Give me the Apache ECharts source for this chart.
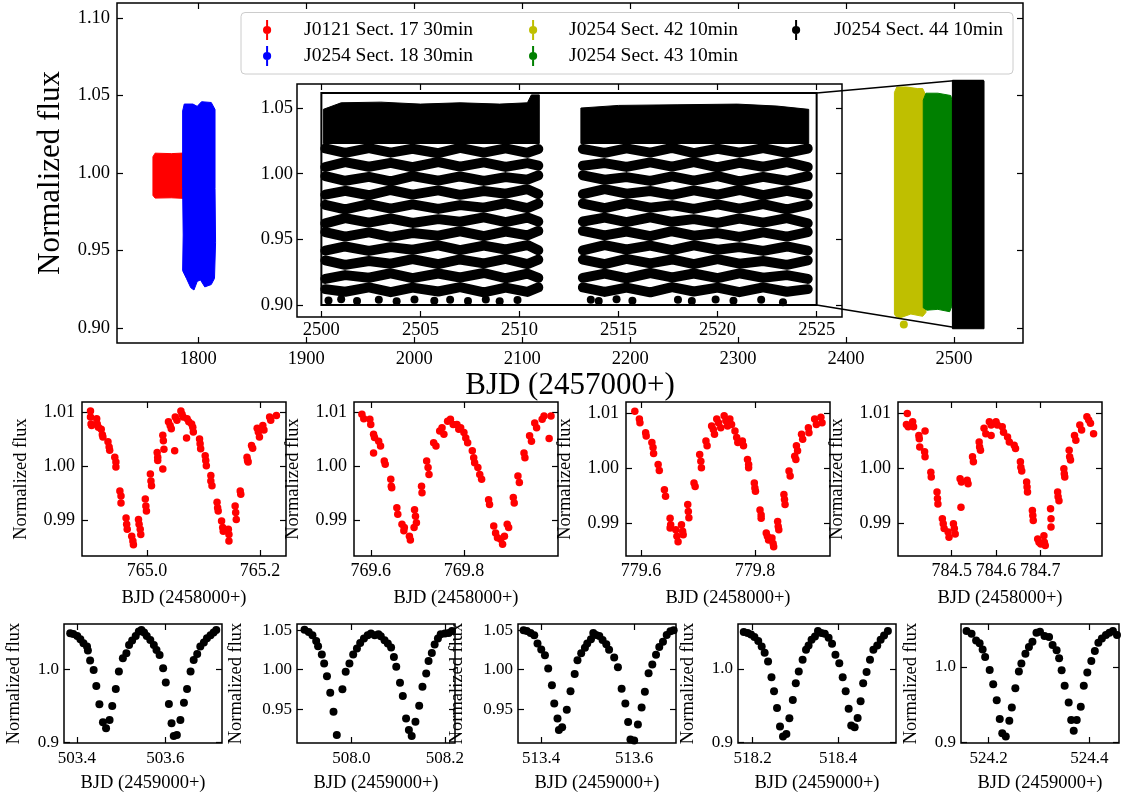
<!DOCTYPE html>
<html>
<head>
<meta charset="utf-8">
<script src="https://cdn.jsdelivr.net/npm/echarts@6.0.0/dist/echarts.min.js"></script>
<style>
  html, body { margin: 0; padding: 0; background: #fff; }
  #chart { width: 1126px; height: 798px; }
</style>
</head>
<body>
<div id="chart"></div>
<script>
const FONT = "'Liberation Serif', 'Times New Roman', serif"

const names = ['J0121 Sect. 17 30min', 'J0254 Sect. 18 30min', 'J0254 Sect. 42 10min', 'J0254 Sect. 43 10min', 'J0254 Sect. 44 10min']
const colors = ['#ff0000', '#0000ff', '#bfbf00', '#008000', '#000000']

// top panel, BJD - 2457000 vs flux: outlines of the dense sector light curves
const sect17Outline = [[1758, 0.9855], [1758, 1.0105], [1760, 1.0128], [1775, 1.0125], [1790, 1.013], [1790, 0.9835], [1775, 0.984], [1760, 0.9838]]
const sect18Outline = [[1785.5, 1.040], [1787, 1.0445], [1795, 1.0445], [1799, 1.043], [1803, 1.046], [1812, 1.0455], [1815.5, 1.041], [1815.5, 0.99], [1816, 0.955], [1815, 0.932], [1812, 0.928], [1806, 0.9265], [1802, 0.931], [1799, 0.930], [1796, 0.9245], [1793, 0.926], [1789, 0.932], [1785.5, 0.937], [1786, 0.96], [1785.5, 0.99]]
const sect42Outline = [[2444.8, 0.909], [2444.8, 1.052], [2447, 1.0555], [2456, 1.0555], [2466, 1.0545], [2471, 1.0545], [2474, 1.050], [2474, 0.910], [2471, 0.9075], [2460, 0.909], [2450, 0.9065], [2446, 0.9075]]
const sect42Outlier = [[2453.5, 0.9022]]
const sect43Outline = [[2471.5, 0.913], [2471.5, 1.047], [2474, 1.0515], [2485, 1.0515], [2497, 1.050], [2498.5, 1.046], [2498.5, 0.915], [2496, 0.9105], [2485, 0.912], [2475, 0.9115]]
const sect44Outline = [[2498.5, 0.8995], [2498.5, 1.0595], [2527.8, 1.0595], [2527.8, 0.8995]]

// zoom boxes [x0, y0, x1, y1]
const zoomBoxMain = [2499.5, 0.9005, 2526.6, 1.0595]
const zoomBoxInset = [2500, 0.900, 2525, 1.0614]

// inset (sector 44): dense top band, woven flux rows below it, loose points at the bottom
const insetBandLeft = [[2500.1, 1.023], [2500.1, 1.049], [2501, 1.054], [2503, 1.0545], [2505, 1.053], [2507, 1.054], [2509, 1.053], [2510.4, 1.054], [2510.6, 1.060], [2511.0, 1.060], [2511.0, 1.023]]
const insetBandRight = [[2513.1, 1.023], [2513.1, 1.050], [2515, 1.052], [2518, 1.0525], [2521, 1.053], [2523, 1.0515], [2524.6, 1.049], [2524.6, 1.023]]
const insetXLeft = [2500.2, 2501.2, 2502.4, 2503.5, 2504.6, 2505.9, 2507.0, 2508.2, 2509.3, 2510.4, 2510.95]
const insetXRight = [2513.2, 2514.3, 2515.4, 2516.6, 2517.7, 2518.8, 2520.0, 2521.1, 2522.3, 2523.5, 2524.55]
const insetRowsLeft = [
  [1.0192, 1.0158, 1.0195, 1.0160, 1.0190, 1.0156, 1.0196, 1.0161, 1.0193, 1.0159, 1.0188],
  [1.0051, 1.0088, 1.0053, 1.0083, 1.0049, 1.0089, 1.0054, 1.0086, 1.0052, 1.0081, 1.0061],
  [0.9981, 0.9946, 0.9976, 0.9942, 0.9982, 0.9947, 0.9979, 0.9945, 0.9974, 0.9954, 0.9988],
  [0.9840, 0.9870, 0.9836, 0.9876, 0.9841, 0.9873, 0.9839, 0.9868, 0.9848, 0.9882, 0.9845],
  [0.9763, 0.9729, 0.9769, 0.9734, 0.9766, 0.9732, 0.9761, 0.9741, 0.9775, 0.9738, 0.9773],
  [0.9622, 0.9662, 0.9627, 0.9659, 0.9625, 0.9654, 0.9634, 0.9668, 0.9631, 0.9666, 0.9636],
  [0.9556, 0.9521, 0.9553, 0.9519, 0.9548, 0.9528, 0.9562, 0.9525, 0.9560, 0.9530, 0.9564],
  [0.9414, 0.9446, 0.9412, 0.9441, 0.9421, 0.9455, 0.9418, 0.9453, 0.9423, 0.9457, 0.9417],
  [0.9340, 0.9306, 0.9335, 0.9315, 0.9349, 0.9312, 0.9347, 0.9317, 0.9351, 0.9311, 0.9346],
  [0.9199, 0.9228, 0.9208, 0.9242, 0.9205, 0.9240, 0.9210, 0.9244, 0.9204, 0.9239, 0.9207],
  [0.9121, 0.9101, 0.9135, 0.9098, 0.9133, 0.9103, 0.9137, 0.9097, 0.9132, 0.9100, 0.9134]
]
const insetRowsRight = [
  [1.0188, 1.0159, 1.0193, 1.0161, 1.0196, 1.0156, 1.0190, 1.0160, 1.0195, 1.0158, 1.0192],
  [1.0061, 1.0081, 1.0052, 1.0086, 1.0054, 1.0089, 1.0049, 1.0083, 1.0053, 1.0088, 1.0051],
  [0.9988, 0.9954, 0.9974, 0.9945, 0.9979, 0.9947, 0.9982, 0.9942, 0.9976, 0.9946, 0.9981],
  [0.9845, 0.9882, 0.9848, 0.9868, 0.9839, 0.9873, 0.9841, 0.9876, 0.9836, 0.9870, 0.9840],
  [0.9773, 0.9738, 0.9775, 0.9741, 0.9761, 0.9732, 0.9766, 0.9734, 0.9769, 0.9729, 0.9763],
  [0.9636, 0.9666, 0.9631, 0.9668, 0.9634, 0.9654, 0.9625, 0.9659, 0.9627, 0.9662, 0.9622],
  [0.9564, 0.9530, 0.9560, 0.9525, 0.9562, 0.9528, 0.9548, 0.9519, 0.9553, 0.9521, 0.9556],
  [0.9417, 0.9457, 0.9423, 0.9453, 0.9418, 0.9455, 0.9421, 0.9441, 0.9412, 0.9446, 0.9414],
  [0.9346, 0.9311, 0.9351, 0.9317, 0.9347, 0.9312, 0.9349, 0.9315, 0.9335, 0.9306, 0.9340],
  [0.9207, 0.9239, 0.9204, 0.9244, 0.9210, 0.9240, 0.9205, 0.9242, 0.9208, 0.9228, 0.9199],
  [0.9134, 0.9100, 0.9132, 0.9097, 0.9137, 0.9103, 0.9133, 0.9098, 0.9135, 0.9101, 0.9121]
]
const insetLoose = [[2500.36, 0.9035], [2501.0, 0.9045], [2501.8, 0.9030], [2502.9, 0.9040], [2503.8, 0.9028], [2504.7, 0.9042], [2505.7, 0.9032], [2506.5, 0.9040], [2507.4, 0.9030], [2508.3, 0.9043], [2509.0, 0.9028], [2509.9, 0.9038],
  [2513.6, 0.9040], [2514.0, 0.9030], [2514.9, 0.9045], [2515.7, 0.9032], [2518.0, 0.9040], [2518.7, 0.9030], [2519.9, 0.9043], [2520.8, 0.9032], [2522.2, 0.9040], [2523.3, 0.9022]]

// middle row, sector 17 (BJD - 2458000)
const lc765 = [[764.900,1.0103],[764.900,1.0092],[764.901,1.0079],[764.902,1.0076],[764.911,1.0089],[764.912,1.0079],[764.914,1.0073],[764.919,1.0069],[764.921,1.0059],[764.922,1.0055],[764.931,1.0046],[764.933,1.0036],[764.934,1.0030],[764.943,1.0017],[764.945,1.0008],[764.945,0.9999],[764.952,0.9954],[764.954,0.9945],[764.954,0.9932],[764.963,0.9904],[764.964,0.9892],[764.965,0.9883],[764.973,0.9870],[764.975,0.9861],[764.976,0.9854],[764.985,0.9901],[764.986,0.9892],[764.988,0.9883],[764.989,0.9873],[764.997,0.9939],[764.998,0.9926],[764.999,0.9917],[765.006,0.9986],[765.007,0.9973],[765.008,0.9964],[765.018,1.0026],[765.019,1.0017],[765.019,1.0011],[765.028,1.0058],[765.029,1.0048],[765.030,1.0032],[765.028,0.9995],[765.038,1.0083],[765.041,1.0076],[765.043,1.0070],[765.049,1.0029],[765.050,1.0092],[765.053,1.0086],[765.060,1.0103],[765.062,1.0097],[765.064,1.0092],[765.071,1.0089],[765.074,1.0083],[765.070,1.0053],[765.079,1.0079],[765.081,1.0073],[765.082,1.0064],[765.093,1.0051],[765.094,1.0042],[765.095,1.0033],[765.103,1.0020],[765.104,1.0011],[765.105,1.0001],[765.113,0.9983],[765.113,0.9973],[765.115,0.9964],[765.124,0.9933],[765.125,0.9923],[765.126,0.9917],[765.132,0.9898],[765.134,0.9886],[765.135,0.9879],[765.144,0.9883],[765.145,0.9873],[765.145,0.9861],[765.156,0.9926],[765.157,0.9914],[765.158,0.9901],[765.165,0.9954],[765.166,0.9948],[765.177,1.0017],[765.178,1.0011],[765.179,1.0008],[765.185,1.0039],[765.187,1.0034],[765.195,1.0071],[765.197,1.0064],[765.199,1.0055],[765.205,1.0076],[765.207,1.0068],[765.217,1.0092],[765.219,1.0086],[765.229,1.0095]]
const lc769 = [[769.581,1.0097],[769.585,1.0089],[769.598,1.0088],[769.600,1.0078],[769.606,1.0060],[769.608,1.0054],[769.606,1.0025],[769.617,1.0047],[769.621,1.0038],[769.629,1.0010],[769.631,1.0004],[769.643,0.9976],[769.644,0.9963],[769.645,0.9960],[769.656,0.9923],[769.658,0.9911],[769.667,0.9892],[769.671,0.9880],[769.672,0.9886],[769.683,0.9870],[769.685,0.9863],[769.694,0.9919],[769.696,0.9907],[769.698,0.9895],[769.693,0.9886],[769.709,0.9963],[769.710,0.9951],[769.720,1.0010],[769.723,0.9998],[769.725,0.9985],[769.735,1.0044],[769.740,1.0038],[769.748,1.0066],[769.753,1.0072],[769.757,1.0060],[769.765,1.0084],[769.771,1.0088],[769.777,1.0078],[769.785,1.0078],[769.789,1.0069],[769.793,1.0072],[769.800,1.0063],[769.804,1.0053],[769.808,1.0044],[769.818,1.0029],[769.821,1.0016],[769.823,1.0007],[769.830,0.9998],[769.834,0.9985],[769.838,0.9976],[769.853,0.9938],[769.855,0.9929],[769.864,0.9889],[769.868,0.9876],[769.872,0.9867],[769.879,0.9864],[769.883,0.9855],[769.887,0.9870],[769.893,0.9892],[769.896,0.9886],[769.906,0.9942],[769.908,0.9932],[769.916,0.9982],[769.919,0.9970],[769.929,1.0025],[769.931,1.0016],[769.941,1.0057],[769.945,1.0047],[769.952,1.0081],[769.956,1.0072],[769.968,1.0088],[769.972,1.0094],[769.983,1.0052],[769.987,1.0094]]
const lc779 = [[779.589,1.0104],[779.597,1.0090],[779.598,1.0083],[779.608,1.0065],[779.609,1.0059],[779.619,1.0047],[779.621,1.0038],[779.622,1.0027],[779.630,1.0007],[779.632,0.9996],[779.641,0.9961],[779.643,0.9949],[779.651,0.9909],[779.652,0.9897],[779.651,0.9891],[779.661,0.9888],[779.663,0.9876],[779.665,0.9866],[779.671,0.9897],[779.673,0.9885],[779.674,0.9879],[779.682,0.9934],[779.683,0.9921],[779.684,0.9910],[779.693,0.9973],[779.695,0.9967],[779.703,1.0025],[779.705,1.0013],[779.706,1.0001],[779.714,1.0050],[779.716,1.0041],[779.724,1.0077],[779.727,1.0071],[779.729,1.0062],[779.733,1.0090],[779.736,1.0083],[779.740,1.0074],[779.746,1.0096],[779.749,1.0087],[779.752,1.0077],[779.756,1.0090],[779.759,1.0080],[779.765,1.0068],[779.768,1.0056],[779.770,1.0047],[779.778,1.0050],[779.780,1.0041],[779.787,1.0016],[779.789,1.0007],[779.789,1.0001],[779.799,0.9973],[779.800,0.9964],[779.801,0.9958],[779.809,0.9924],[779.811,0.9915],[779.811,0.9909],[779.820,0.9882],[779.822,0.9876],[779.824,0.9869],[779.830,0.9873],[779.832,0.9863],[779.833,0.9857],[779.840,0.9903],[779.841,0.9894],[779.842,0.9888],[779.851,0.9952],[779.852,0.9943],[779.853,0.9934],[779.860,0.9995],[779.862,0.9986],[779.870,1.0022],[779.872,1.0016],[779.873,1.0041],[779.875,1.0032],[779.882,1.0062],[779.884,1.0053],[779.894,1.0074],[779.895,1.0065],[779.905,1.0090],[779.908,1.0080],[779.916,1.0093],[779.918,1.0083]]
const lc784 = [[784.400,1.0100],[784.398,1.0080],[784.402,1.0076],[784.412,1.0085],[784.414,1.0076],[784.426,1.0060],[784.427,1.0054],[784.428,1.0039],[784.440,1.0068],[784.439,1.0030],[784.440,1.0021],[784.453,0.9993],[784.454,0.9984],[784.467,0.9957],[784.468,0.9945],[784.469,0.9935],[784.479,0.9908],[784.481,0.9899],[784.483,0.9890],[784.492,0.9884],[784.494,0.9874],[784.504,0.9899],[784.506,0.9890],[784.508,0.9880],[784.519,0.9981],[784.522,0.9975],[784.521,0.9929],[784.535,0.9978],[784.537,0.9972],[784.547,1.0021],[784.549,1.0012],[784.562,1.0048],[784.563,1.0039],[784.565,1.0033],[784.573,1.0073],[784.577,1.0063],[784.585,1.0085],[784.589,1.0079],[784.589,1.0060],[784.600,1.0085],[784.603,1.0079],[784.614,1.0076],[784.617,1.0066],[784.626,1.0057],[784.630,1.0048],[784.641,1.0042],[784.644,1.0036],[784.655,1.0012],[784.656,1.0002],[784.658,0.9995],[784.669,0.9975],[784.670,0.9966],[784.671,0.9957],[784.682,0.9923],[784.683,0.9914],[784.684,0.9905],[784.694,0.9871],[784.697,0.9865],[784.701,0.9862],[784.708,0.9877],[784.709,0.9865],[784.711,0.9859],[784.723,0.9926],[784.724,0.9908],[784.724,0.9893],[784.739,0.9957],[784.740,0.9948],[784.742,0.9941],[784.753,0.9999],[784.754,0.9990],[784.755,0.9984],[784.765,1.0033],[784.766,1.0021],[784.768,1.0015],[784.777,1.0060],[784.780,1.0051],[784.789,1.0079],[784.793,1.0070],[784.805,1.0094],[784.809,1.0088],[784.813,1.0082],[784.820,1.0063]]

// bottom row, sector 44 (BJD - 2459000)
const lc503 = [[503.385,1.0493],[503.392,1.0484],[503.401,1.0457],[503.408,1.0411],[503.415,1.0356],[503.423,1.0311],[503.425,1.0256],[503.430,1.0119],[503.438,0.9991],[503.444,0.9772],[503.451,0.9521],[503.459,0.9274],[503.466,0.9192],[503.474,0.9306],[503.480,0.9498],[503.488,0.9731],[503.495,0.9968],[503.504,1.0151],[503.512,1.0219],[503.518,1.0333],[503.525,1.0393],[503.533,1.0457],[503.540,1.0516],[503.546,1.0539],[503.552,1.0502],[503.558,1.0457],[503.566,1.0402],[503.574,1.0333],[503.580,1.0265],[503.587,1.0196],[503.595,1.0014],[503.601,0.9817],[503.608,0.9525],[503.614,0.9260],[503.619,0.9087],[503.626,0.9100],[503.634,0.9306],[503.642,0.9543],[503.649,0.9731],[503.657,0.9968],[503.664,1.0128],[503.672,1.0210],[503.679,1.0311],[503.687,1.0365],[503.694,1.0425],[503.702,1.0466],[503.709,1.0502],[503.715,1.0539]]
const lc508 = [[507.900,1.0508],[507.909,1.0479],[507.917,1.0437],[507.925,1.0365],[507.929,1.0297],[507.937,1.0192],[507.942,1.0078],[507.948,0.9918],[507.955,0.9707],[507.962,0.9466],[507.969,0.9171],[507.981,0.9753],[507.988,0.9973],[507.996,1.0078],[508.004,1.0192],[508.012,1.0268],[508.019,1.0340],[508.027,1.0395],[508.035,1.0437],[508.042,1.0458],[508.050,1.0437],[508.058,1.0449],[508.063,1.0424],[508.071,1.0373],[508.078,1.0331],[508.085,1.0281],[508.091,1.0162],[508.096,1.0036],[508.104,0.9833],[508.110,0.9665],[508.117,0.9382],[508.123,0.9234],[508.129,0.9158],[508.137,0.9340],[508.145,0.9542],[508.152,0.9783],[508.160,0.9951],[508.165,1.0112],[508.172,1.0213],[508.178,1.0319],[508.185,1.0395],[508.191,1.0449],[508.200,1.0458],[508.208,1.0466],[508.215,1.0492]]
const lc513 = [[513.362,1.0500],[513.369,1.0492],[513.377,1.0466],[513.385,1.0437],[513.392,1.0331],[513.400,1.0255],[513.408,1.0184],[513.415,1.0015],[513.423,0.9804],[513.428,0.9572],[513.435,0.9382],[513.438,0.9234],[513.445,0.9270],[513.455,0.9491],[513.463,0.9726],[513.472,0.9947],[513.478,1.0119],[513.486,1.0208],[513.494,1.0279],[513.499,1.0332],[513.507,1.0385],[513.512,1.0465],[513.518,1.0442],[513.525,1.0429],[513.532,1.0376],[513.540,1.0323],[513.546,1.0252],[513.557,1.0155],[513.565,1.0031],[513.573,0.9757],[513.581,0.9571],[513.587,0.9336],[513.592,0.9115],[513.600,0.9102],[513.608,0.9305],[513.616,0.9522],[513.623,0.9721],[513.631,0.9956],[513.639,1.0066],[513.647,1.0190],[513.654,1.0288],[513.662,1.0354],[513.670,1.0442],[513.678,1.0487],[513.685,1.0500]]
const lc518 = [[518.179,1.0500],[518.188,1.0486],[518.196,1.0468],[518.204,1.0432],[518.213,1.0377],[518.221,1.0305],[518.228,1.0218],[518.236,1.0100],[518.244,0.9886],[518.250,0.9695],[518.257,0.9468],[518.264,0.9214],[518.271,0.9077],[518.279,0.9114],[518.286,0.9327],[518.294,0.9577],[518.301,0.9805],[518.308,0.9964],[518.317,1.0123],[518.325,1.0259],[518.331,1.0318],[518.338,1.0395],[518.346,1.0441],[518.353,1.0514],[518.361,1.0486],[518.369,1.0477],[518.378,1.0423],[518.386,1.0341],[518.394,1.0191],[518.403,1.0077],[518.411,0.9886],[518.418,0.9695],[518.425,0.9455],[518.431,0.9227],[518.439,0.9205],[518.446,0.9332],[518.453,0.9559],[518.459,0.9805],[518.467,0.9955],[518.475,1.0123],[518.483,1.0259],[518.492,1.0318],[518.500,1.0395],[518.508,1.0455],[518.517,1.0514]]
const lc524 = [[524.156,1.0476],[524.166,1.0441],[524.175,1.0352],[524.182,1.0313],[524.188,1.0233],[524.193,1.0132],[524.202,0.9960],[524.209,0.9771],[524.216,0.9559],[524.222,0.9308],[524.227,0.9119],[524.234,0.9075],[524.241,0.9286],[524.246,0.9463],[524.253,0.9718],[524.260,0.9938],[524.265,1.0044],[524.273,1.0176],[524.280,1.0264],[524.287,1.0335],[524.295,1.0454],[524.302,1.0467],[524.311,1.0410],[524.320,1.0396],[524.327,1.0291],[524.335,1.0220],[524.340,1.0115],[524.345,0.9956],[524.351,0.9749],[524.359,0.9529],[524.364,0.9295],[524.369,0.9154],[524.375,0.9295],[524.383,0.9471],[524.389,0.9749],[524.396,0.9925],[524.404,1.0079],[524.411,1.0211],[524.418,1.0322],[524.425,1.0379],[524.433,1.0423],[524.440,1.0454],[524.447,1.0476],[524.455,1.0423]]

// ticks
const mainXTicks = [1800, 1900, 2000, 2100, 2200, 2300, 2400, 2500]
const mainYTicks = [0.90, 0.95, 1.00, 1.05, 1.10]
const insetXTicks = [2500, 2505, 2510, 2515, 2520, 2525]
const insetYTicks = [0.90, 0.95, 1.00, 1.05]
const midXTicks = [[765.0, 765.2], [769.6, 769.8], [779.6, 779.8], [784.5, 784.6, 784.7]]
const midYTicks = [0.99, 1.00, 1.01]
const botXTicks = [[503.4, 503.6], [508.0, 508.2], [513.4, 513.6], [518.2, 518.4], [524.2, 524.4]]
const botYTicks = [[0.9, 1.0], [0.95, 1.00, 1.05], [0.95, 1.00, 1.05], [0.9, 1.0], [0.9, 1.0]]

// axis limits
const mainXRange = [1724.7, 2563.9], mainYRange = [0.8903, 1.1097]
const insetXRange = [2498.77, 2526.28], insetYRange = [0.8909, 1.0683]
const midXRanges = [[764.885, 765.246], [769.564, 770.002], [779.5735, 779.932], [784.379, 784.839]]
const midYRanges = [[0.9833, 1.0120], [0.9833, 1.0120], [0.9840, 1.0121], [0.9840, 1.0121]]
const botXRanges = [[503.371, 503.728], [507.884, 508.2215], [513.35, 513.69], [518.1655, 518.536], [524.145, 524.459]]
const botYRanges = [[0.899, 1.062], [0.907, 1.058], [0.907, 1.058], [0.899, 1.061], [0.899, 1.057]]

const grids = [], xAxes = [], yAxes = [], series = []

function addPanel(p) {
  const g = grids.length
  grids.push({ left: p.box[0], top: p.box[1], width: p.box[2], height: p.box[3], show: true,
    borderColor: '#000', borderWidth: 1.5, backgroundColor: p.bg || 'transparent', z: p.z || 0 })
  const tick = vals => ({ show: true, inside: true, length: 6, customValues: vals, lineStyle: { color: '#000', width: 1.2 } })
  const nameStyle = { fontFamily: FONT, fontSize: p.nfs, color: '#000' }
  const xi = xAxes.length, yi = yAxes.length
  xAxes.push({ type: 'value', gridIndex: g, min: p.xr[0], max: p.xr[1], position: 'bottom', z: p.z || 0,
    axisLine: { show: false }, splitLine: { show: false }, axisTick: tick(p.xt),
    axisLabel: { customValues: p.xt, formatter: v => v.toFixed(p.xd), fontFamily: FONT, fontSize: p.fs, color: '#000', margin: p.xm },
    name: p.xName, nameLocation: 'middle', nameGap: p.xGap, nameTextStyle: nameStyle })
  xAxes.push({ type: 'value', gridIndex: g, min: p.xr[0], max: p.xr[1], position: 'top', z: p.z || 0,
    axisLine: { show: false }, splitLine: { show: false }, axisTick: tick(p.xt), axisLabel: { show: false } })
  yAxes.push({ type: 'value', gridIndex: g, min: p.yr[0], max: p.yr[1], position: 'left', z: p.z || 0,
    axisLine: { show: false }, splitLine: { show: false }, axisTick: tick(p.yt),
    axisLabel: { customValues: p.yt, formatter: v => v.toFixed(p.yd), fontFamily: FONT, fontSize: p.fs, color: '#000', margin: p.ym },
    name: p.yName, nameLocation: 'middle', nameGap: p.yGap, nameTextStyle: nameStyle })
  yAxes.push({ type: 'value', gridIndex: g, min: p.yr[0], max: p.yr[1], position: 'right', z: p.z || 0,
    axisLine: { show: false }, splitLine: { show: false }, axisTick: tick(p.yt), axisLabel: { show: false } })
  return [xi, yi]
}

const polygon = (name, outline, color, ax, z) => ({
  type: 'custom', name, xAxisIndex: ax[0], yAxisIndex: ax[1], z, silent: true, clip: true, data: [0],
  renderItem: (params, api) => ({ type: 'polygon', shape: { points: outline.map(v => api.coord(v)) },
    style: { fill: color, stroke: color, lineWidth: 1 } })
})
const box = (b, ax, z) => ({
  type: 'custom', xAxisIndex: ax[0], yAxisIndex: ax[1], z, silent: true, clip: false, data: [0],
  renderItem: (params, api) => {
    const a = api.coord([b[0], b[3]]), c = api.coord([b[2], b[1]])
    return { type: 'rect', shape: { x: a[0], y: a[1], width: c[0] - a[0], height: c[1] - a[1] },
      style: { fill: 'none', stroke: '#000', lineWidth: 2 } }
  }
})
const dots = (name, data, color, size, ax, z) => ({
  type: 'scatter', name, xAxisIndex: ax[0], yAxisIndex: ax[1], z: z || 2, silent: true,
  symbolSize: size, itemStyle: { color, opacity: 1 }, data
})
const row = (xs, ys, ax) => ({
  type: 'line', name: names[4], xAxisIndex: ax[0], yAxisIndex: ax[1], z: 3, silent: true, showSymbol: false,
  lineStyle: { color: '#000', width: 10, cap: 'round', join: 'round' }, data: xs.map((x, i) => [x, ys[i]])
})

// main panel
const mainAx = addPanel({ box: [117, 3, 906, 340], xr: mainXRange, yr: mainYRange, xt: mainXTicks, yt: mainYTicks,
  xd: 0, yd: 2, fs: 18.5, nfs: 31, xm: 7, ym: 7, xName: 'BJD (2457000+)', xGap: 27, yName: 'Normalized flux', yGap: 50 })
series.push(polygon(names[0], sect17Outline, colors[0], mainAx, 2))
series.push(polygon(names[1], sect18Outline, colors[1], mainAx, 2))
series.push(polygon(names[2], sect42Outline, colors[2], mainAx, 2))
series.push(dots(names[2], sect42Outlier, colors[2], 8, mainAx, 2))
series.push(polygon(names[3], sect43Outline, colors[3], mainAx, 2))
series.push(polygon(names[4], sect44Outline, colors[4], mainAx, 2))
series.push(box(zoomBoxMain, mainAx, 3))

// inset
const insetAx = addPanel({ box: [297, 84, 545, 233], xr: insetXRange, yr: insetYRange, xt: insetXTicks, yt: insetYTicks,
  xd: 0, yd: 2, fs: 18.5, nfs: 18, xm: 4, ym: 4, bg: '#fff', z: 1 })
series.push(polygon(names[4], insetBandLeft, '#000', insetAx, 3))
series.push(polygon(names[4], insetBandRight, '#000', insetAx, 3))
insetRowsLeft.forEach(ys => series.push(row(insetXLeft, ys, insetAx)))
insetRowsRight.forEach(ys => series.push(row(insetXRight, ys, insetAx)))
series.push(dots(names[4], insetLoose, '#000', 8, insetAx, 3))
series.push(box(zoomBoxInset, insetAx, 4))

// middle row
const midLefts = [82, 354, 626, 898]
const midCurves = [lc765, lc769, lc779, lc784]
midCurves.forEach((lc, i) => {
  const ax = addPanel({ box: [midLefts[i], 402, 204, 154], xr: midXRanges[i], yr: midYRanges[i], xt: midXTicks[i], yt: midYTicks,
    xd: 1, yd: 2, fs: 18, nfs: 18.5, xm: 6, ym: 7, xName: 'BJD (2458000+)', xGap: 33, yName: 'Normalized flux', yGap: 51 })
  series.push(dots(names[0], lc, colors[0], 7.5, ax))
})

// bottom row
const botLefts = [64, 297, 518, 738, 961]
const botCurves = [lc503, lc508, lc513, lc518, lc524]
botCurves.forEach((lc, i) => {
  const wide = botYTicks[i].length === 3
  const ax = addPanel({ box: [botLefts[i], 624, 158, 119], xr: botXRanges[i], yr: botYRanges[i], xt: botXTicks[i], yt: botYTicks[i],
    xd: 1, yd: wide ? 2 : 1, fs: 17, nfs: 18.5, xm: 7, ym: 5, xName: 'BJD (2459000+)', xGap: 31, yName: 'Normalized flux', yGap: wide ? 51 : 40 })
  series.push(dots(names[4], lc, colors[4], 8, ax))
})

const ERRBAR = 'path://M3.9,0H6.1V22H3.9Z M5,6.5A4.5,4.5,0,1,1,5,15.5A4.5,4.5,0,1,1,5,6.5Z'
const legendCol = (left, idx, pad) => ({
  left, top: 20, orient: 'vertical', itemGap: 6, itemWidth: 10, itemHeight: 20, padding: 0, z: 6,
  selectedMode: false,
  data: idx.map(i => ({ name: names[i], icon: ERRBAR, itemStyle: { color: colors[i] } })),
  textStyle: { fontFamily: FONT, fontSize: 19.5, color: '#000', padding: [0, 0, 0, pad], lineHeight: 20 }
})

const chart = echarts.init(document.getElementById('chart'), null, { renderer: 'canvas' })
chart.setOption({
  animation: false,
  backgroundColor: '#fff',
  grid: grids, xAxis: xAxes, yAxis: yAxes, series,
  legend: [legendCol(263, [0, 1], 27), legendCol(529, [2, 3], 26), legendCol(792, [4], 28)],
  graphic: [{ id: 'legendFrame', type: 'rect', z: 5, silent: true,
    shape: { x: 241, y: 12.5, width: 772, height: 61.5, r: 4 },
    style: { fill: 'rgba(255,255,255,0.8)', stroke: '#cccccc', lineWidth: 1 } }]
})

// connector lines between the inset box and the zoom box
const insetFinder = { xAxisIndex: insetAx[0], yAxisIndex: insetAx[1] }
const mainFinder = { xAxisIndex: mainAx[0], yAxisIndex: mainAx[1] }
const a1 = chart.convertToPixel(insetFinder, [zoomBoxInset[2], zoomBoxInset[3]])
const a2 = chart.convertToPixel(insetFinder, [zoomBoxInset[2], zoomBoxInset[1]])
const b1 = chart.convertToPixel(mainFinder, [zoomBoxMain[0], zoomBoxMain[3]])
const b2 = chart.convertToPixel(mainFinder, [zoomBoxMain[0], zoomBoxMain[1]])
chart.setOption({
  graphic: [
    { id: 'c1', type: 'line', z: 5, silent: true, shape: { x1: a1[0], y1: a1[1], x2: b1[0], y2: b1[1] }, style: { stroke: '#000', lineWidth: 1.5 } },
    { id: 'c2', type: 'line', z: 5, silent: true, shape: { x1: a2[0], y1: a2[1], x2: b2[0], y2: b2[1] }, style: { stroke: '#000', lineWidth: 1.5 } }
  ]
})
</script>
</body>
</html>
